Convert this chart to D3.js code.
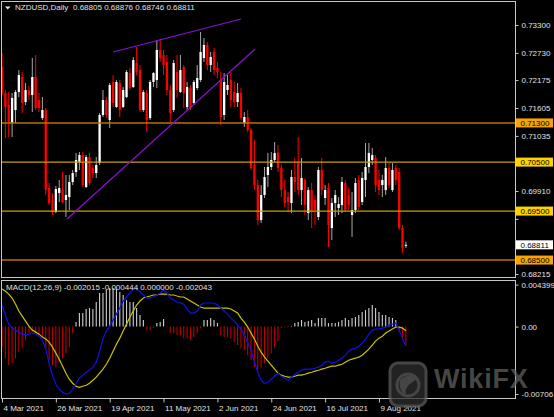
<!DOCTYPE html>
<html>
<head>
<meta charset="utf-8">
<script src="https://d3js.org/d3.v7.min.js"></script>
<style>
  body { margin: 0; background: #000; }
  svg text { font-family: "Liberation Sans", Arial, sans-serif; }
</style>
</head>
<body>
<div id="chart"></div>
<script>
// NZDUSD daily candles, 4 Mar 2021 .. 19 Aug 2021 (one value per trading day)
var opens = [
  0.72442,0.71911,0.71666,0.71298,0.71564,0.71931,0.72237,0.71727,0.71972,0.71870,
  0.72237,0.71768,0.71400,0.71564,0.69971,0.69726,0.69481,0.69869,0.69930,0.69726,
  0.69787,0.70094,0.70298,0.70502,0.70645,0.69991,0.70604,0.70380,0.70277,0.70482,
  0.71462,0.71768,0.71360,0.72136,0.71625,0.72115,0.71625,0.71829,0.72319,0.72033,
  0.72524,0.72381,0.71564,0.71911,0.71400,0.72136,0.72176,0.72789,0.72687,0.72544,
  0.71972,0.71564,0.72340,0.71931,0.72442,0.71625,0.72013,0.71707,0.72013,0.72176,
  0.72626,0.72891,0.72483,0.72748,0.72421,0.72176,0.71462,0.71972,0.72176,0.71931,
  0.71727,0.71911,0.71298,0.71421,0.71155,0.70441,0.70032,0.69318,0.69828,0.70237,
  0.70400,0.70543,0.70686,0.70380,0.69930,0.69787,0.69665,0.70196,0.70482,0.69930,
  0.70134,0.69460,0.69930,0.69726,0.69379,0.70339,0.69767,0.69971,0.69154,0.69665,
  0.69563,0.69624,0.70073,0.69828,0.69420,0.69522,0.70134,0.69685,0.70134,0.70400,
  0.70543,0.70584,0.70134,0.70032,0.69930,0.70380,0.69930,0.70380,0.70298,0.69154,
  0.68805];
var highs = [
  0.72728,0.71972,0.71931,0.71911,0.71972,0.72381,0.72340,0.72115,0.72054,0.72626,
  0.72687,0.71911,0.71829,0.71605,0.70073,0.69869,0.70012,0.70134,0.70298,0.70237,
  0.70237,0.70339,0.70686,0.70706,0.70706,0.70645,0.70686,0.70441,0.70604,0.71502,
  0.71972,0.71829,0.72115,0.72278,0.72176,0.72176,0.72033,0.72381,0.72421,0.72646,
  0.72850,0.72483,0.71972,0.71972,0.72176,0.72340,0.72993,0.73014,0.72789,0.72687,
  0.72074,0.72585,0.72687,0.72687,0.72483,0.72136,0.72074,0.72176,0.72483,0.73157,
  0.73034,0.72952,0.72748,0.72830,0.72544,0.72340,0.72319,0.72278,0.72340,0.72136,
  0.72115,0.72013,0.71523,0.71564,0.71196,0.70951,0.70134,0.70032,0.70400,0.70686,
  0.70706,0.70910,0.70849,0.70441,0.70134,0.69889,0.70339,0.70584,0.71013,0.70584,
  0.70175,0.69991,0.70073,0.69828,0.70400,0.70584,0.70032,0.70073,0.69767,0.69930,
  0.69787,0.70196,0.70134,0.69971,0.69889,0.70175,0.70237,0.70298,0.70890,0.70890,
  0.70788,0.70645,0.70339,0.70237,0.70604,0.70482,0.70482,0.70441,0.70380,0.69216,
  0.68876];
var lows = [
  0.71870,0.70992,0.71013,0.71013,0.71298,0.71829,0.71502,0.71666,0.71768,0.71523,
  0.71564,0.71523,0.71360,0.69828,0.69624,0.69420,0.69460,0.69685,0.69665,0.69379,
  0.69522,0.70032,0.70196,0.70339,0.69991,0.69971,0.70032,0.70175,0.70175,0.70441,
  0.71421,0.71400,0.71196,0.71625,0.71605,0.71421,0.71605,0.71808,0.71972,0.72013,
  0.72278,0.71523,0.71523,0.71115,0.71360,0.72033,0.72013,0.72544,0.72278,0.71870,
  0.71319,0.71523,0.71808,0.71911,0.71605,0.71564,0.71564,0.71666,0.71972,0.72136,
  0.72544,0.72381,0.72340,0.72278,0.72217,0.71258,0.71360,0.71870,0.71625,0.71625,
  0.71625,0.71360,0.71217,0.71115,0.70339,0.69930,0.69216,0.69256,0.69767,0.69991,
  0.70339,0.70502,0.70298,0.69787,0.69583,0.69481,0.69460,0.69889,0.69828,0.69624,
  0.69420,0.69318,0.69154,0.69216,0.69318,0.69828,0.69624,0.68766,0.68909,0.69379,
  0.69420,0.69460,0.69481,0.69522,0.68971,0.69460,0.69522,0.69624,0.69787,0.70277,
  0.70441,0.69889,0.69828,0.69787,0.69828,0.69971,0.69889,0.70032,0.69113,0.68644,
  0.68746];
var closes = [
  0.71911,0.71625,0.71319,0.71808,0.71931,0.72278,0.71707,0.71972,0.71870,0.72237,
  0.71605,0.71605,0.71564,0.69930,0.69665,0.69481,0.69951,0.69971,0.69685,0.69828,
  0.70094,0.70277,0.70543,0.70645,0.70032,0.70604,0.70073,0.70277,0.70441,0.71462,
  0.71768,0.71462,0.72074,0.71707,0.72136,0.71564,0.71972,0.72340,0.72013,0.72585,
  0.72340,0.71564,0.71931,0.71360,0.72136,0.72319,0.72789,0.72626,0.72483,0.71972,
  0.71502,0.72524,0.71972,0.72381,0.71911,0.72033,0.71605,0.72136,0.72217,0.72748,
  0.72891,0.72483,0.72646,0.72381,0.72340,0.71421,0.72136,0.72074,0.71768,0.71727,
  0.71911,0.71400,0.71421,0.71155,0.70380,0.70032,0.69318,0.69828,0.70196,0.70400,
  0.70543,0.70686,0.70380,0.69930,0.69665,0.69685,0.70196,0.70094,0.69930,0.70175,
  0.69624,0.69930,0.69481,0.69522,0.70339,0.69930,0.69930,0.69216,0.69665,0.69828,
  0.69644,0.70094,0.69522,0.69624,0.69522,0.70073,0.69583,0.70175,0.70400,0.70686,
  0.70645,0.70032,0.69930,0.70134,0.70380,0.70032,0.70339,0.70134,0.69154,0.68746,
  0.68811];

// MACD(12,26,9) panel: histogram, main (blue) and signal (yellow)
var macdHist = [
  -0.00215,-0.00331,-0.00404,-0.00383,-0.00331,-0.00268,-0.00226,-0.00142,-0.00068,-0.00058,
  -0.00068,-0.00089,-0.00110,-0.00226,-0.00352,-0.00404,-0.00425,-0.00373,-0.00331,-0.00278,
  -0.00215,-0.00068,0.00047,0.00142,0.00142,0.00184,0.00194,0.00184,0.00257,0.00352,
  0.00352,0.00383,0.00404,0.00404,0.00394,0.00362,0.00331,0.00278,0.00257,0.00257,
  0.00194,0.00121,0.00068,-0.00037,-0.00037,-0.00016,0.00037,0.00047,0.00079,-0.00005,
  -0.00068,-0.00068,-0.00089,-0.00089,-0.00121,-0.00121,-0.00142,-0.00110,-0.00068,-0.00020,
  0.00068,0.00068,0.00089,0.00068,0.00037,-0.00089,-0.00110,-0.00110,-0.00121,-0.00163,
  -0.00194,-0.00226,-0.00247,-0.00299,-0.00352,-0.00425,-0.00457,-0.00425,-0.00383,-0.00331,
  -0.00280,-0.00220,-0.00150,-0.00015,-0.00008,-0.00008,0.00005,0.00037,0.00047,0.00068,
  0.00047,0.00058,0.00068,0.00037,0.00089,0.00089,0.00089,0.00037,0.00037,0.00037,
  0.00047,0.00068,0.00089,0.00068,0.00089,0.00100,0.00121,0.00152,0.00173,0.00194,
  0.00226,0.00194,0.00152,0.00121,0.00121,0.00100,0.00089,0.00068,-0.00058,-0.00110,
  -0.002015];
var macdMain = [
  0.00226,0.00121,0.00026,-0.00016,-0.00037,-0.00058,-0.00079,-0.00089,-0.00079,-0.00068,
  -0.00079,-0.00100,-0.00142,-0.00236,-0.00383,-0.00509,-0.00604,-0.00656,-0.00688,-0.00706,
  -0.00698,-0.00656,-0.00593,-0.00541,-0.00509,-0.00478,-0.00457,-0.00425,-0.00373,-0.00257,
  -0.00131,-0.00047,0.00005,0.00068,0.00131,0.00194,0.00268,0.00310,0.00352,0.00394,
  0.00394,0.00362,0.00331,0.00299,0.00299,0.00310,0.00331,0.00352,0.00383,0.00352,
  0.00299,0.00278,0.00257,0.00247,0.00236,0.00184,0.00142,0.00142,0.00163,0.00226,
  0.00247,0.00247,0.00247,0.00247,0.00226,0.00194,0.00163,0.00131,0.00089,0.00058,
  0.00016,-0.00026,-0.00089,-0.00163,-0.00247,-0.00373,-0.00478,-0.00562,-0.00593,-0.00583,
  -0.00551,-0.00520,-0.00488,-0.00520,-0.00541,-0.00562,-0.00530,-0.00499,-0.00478,-0.00457,
  -0.00446,-0.00446,-0.00446,-0.00436,-0.00425,-0.00404,-0.00373,-0.00362,-0.00383,-0.00373,
  -0.00352,-0.00331,-0.00299,-0.00257,-0.00236,-0.00226,-0.00205,-0.00173,-0.00131,-0.00079,
  -0.00037,-0.00026,-0.00026,-0.00016,-0.00005,0.00016,0.00026,0.00037,-0.00037,-0.00131,
  -0.002043];
var macdSignal = [
  0.00394,0.00373,0.00341,0.00299,0.00236,0.00163,0.00110,0.00058,0.00005,-0.00037,
  -0.00058,-0.00079,-0.00110,-0.00131,-0.00163,-0.00215,-0.00278,-0.00341,-0.00415,-0.00488,
  -0.00551,-0.00593,-0.00625,-0.00636,-0.00625,-0.00614,-0.00593,-0.00562,-0.00530,-0.00488,
  -0.00446,-0.00394,-0.00331,-0.00257,-0.00184,-0.00121,-0.00047,0.00026,0.00100,0.00163,
  0.00226,0.00268,0.00299,0.00310,0.00320,0.00331,0.00331,0.00341,0.00341,0.00341,
  0.00331,0.00331,0.00320,0.00310,0.00310,0.00289,0.00268,0.00247,0.00226,0.00205,
  0.00194,0.00194,0.00194,0.00194,0.00194,0.00194,0.00194,0.00194,0.00184,0.00163,
  0.00142,0.00089,0.00047,-0.00005,-0.00068,-0.00131,-0.00205,-0.00268,-0.00320,-0.00362,
  -0.00404,-0.00446,-0.00488,-0.00509,-0.00520,-0.00530,-0.00530,-0.00520,-0.00509,-0.00509,
  -0.00499,-0.00488,-0.00478,-0.00467,-0.00457,-0.00446,-0.00436,-0.00425,-0.00415,-0.00415,
  -0.00404,-0.00394,-0.00373,-0.00352,-0.00341,-0.00331,-0.00320,-0.00299,-0.00268,-0.00236,
  -0.00194,-0.00152,-0.00121,-0.00100,-0.00068,-0.00047,-0.00026,-0.00005,-0.00005,-0.00016,
  -0.000444];

// axes
var priceTicks = [0.73300, 0.72730, 0.72175, 0.71605, 0.71035, 0.70465, 0.69910, 0.69340, 0.68770, 0.68215];
var priceDomain = [0.68154, 0.73749];
var macdTicks = [0.004399, 0.0, -0.00706];
var macdTickLabels = ["0.004399", "0.00", "-0.00706"];
var dateTickBars = [0, 16, 32, 48, 64, 80, 96, 112];
var dateTickLabels = ["4 Mar 2021", "26 Mar 2021", "19 Apr 2021", "11 May 2021", "2 Jun 2021", "24 Jun 2021", "16 Jul 2021", "9 Aug 2021"];

// horizontal levels and trend lines drawn on the chart
var levels = [0.71300, 0.70500, 0.69500, 0.68500];
var trendFrom = [[33.0, 0.72748], [19.3, 0.69338]];
var trendTo = [[71.0, 0.73422], [75.2, 0.72809]];

var symbolText = "NZDUSD,Daily";
var macdName = "MACD(12,26,9)";
var macdValues = ["-0.002015", "-0.000444", "0.000000", "-0.002043"];

// ---- layout / styles ----
var svgWidth = 554;
var svgHeight = 417;
var panelLeft = 1.5, panelRight = 515.5;
var mainTop = 1.5, mainBottom = 277.5;
var macdTop = 280.5, macdBottom = 398.5;
var levelLineColors = ["#b87000", "#c8a000", "#c8a000", "#b87000"];
var levelBoxColors = ["#f5a400", "#ffd200", "#ffd200", "#f5a400"];
var textColor = "#e0e0e0";
var frameColor = "#c8c8c8";

var svg = d3.select("#chart").append("svg").attr("width", svgWidth).attr("height", svgHeight);
svg.append("rect").attr("width", svgWidth).attr("height", svgHeight).attr("fill", "#000");

var defs = svg.append("defs");
defs.append("clipPath").attr("id", "clipMain").append("rect")
    .attr("x", panelLeft + 0.5).attr("y", mainTop + 0.5)
    .attr("width", panelRight - panelLeft - 1).attr("height", mainBottom - mainTop - 1);
defs.append("clipPath").attr("id", "clipMacd").append("rect")
    .attr("x", panelLeft + 0.5).attr("y", macdTop + 0.5)
    .attr("width", panelRight - panelLeft - 1).attr("height", macdBottom - macdTop - 1);

// scales
var bars = d3.range(closes.length);
var xScale = d3.scaleLinear().domain([0, 120]).range([2, 405.9]);
var yPrice = d3.scaleLinear().domain(priceDomain).range([277, 3]);
var yMacd = d3.scaleLinear().domain([macdTicks[2], macdTicks[0]]).range([394, 284.6]);

// ---- main panel ----
var mainGroup = svg.append("g").attr("clip-path", "url(#clipMain)");

mainGroup.selectAll("line.wick")
    .data(bars)
    .enter()
    .append("line")
    .attr("class", "wick")
    .attr("x1", i => xScale(i))
    .attr("x2", i => xScale(i))
    .attr("y1", i => yPrice(highs[i]))
    .attr("y2", i => yPrice(lows[i]))
    .attr("stroke", i => closes[i] >= opens[i] ? "#a8a8a8" : "#ff0000")
    .attr("stroke-width", 1);

mainGroup.selectAll("rect.body")
    .data(bars)
    .enter()
    .append("rect")
    .attr("class", "body")
    .attr("x", i => xScale(i) - 1.15)
    .attr("width", 2.3)
    .attr("y", i => yPrice(Math.max(opens[i], closes[i])))
    .attr("height", i => Math.max(1, Math.abs(yPrice(opens[i]) - yPrice(closes[i]))))
    .attr("fill", i => closes[i] >= opens[i] ? "#ffffff" : "#ff0000");

// level lines
mainGroup.selectAll("line.level")
    .data(levels)
    .enter()
    .append("line")
    .attr("class", "level")
    .attr("x1", panelLeft)
    .attr("x2", panelRight)
    .attr("y1", d => yPrice(d))
    .attr("y2", d => yPrice(d))
    .attr("stroke", (d, k) => levelLineColors[k])
    .attr("stroke-width", 1.4);

// trend lines
mainGroup.selectAll("line.trend")
    .data(d3.range(trendFrom.length))
    .enter()
    .append("line")
    .attr("class", "trend")
    .attr("x1", k => xScale(trendFrom[k][0]))
    .attr("y1", k => yPrice(trendFrom[k][1]))
    .attr("x2", k => xScale(trendTo[k][0]))
    .attr("y2", k => yPrice(trendTo[k][1]))
    .attr("stroke", "#8c10d0")
    .attr("stroke-width", 1.2);

// header
svg.append("path").attr("d", "M5,6.5 L10.5,6.5 L7.75,9.5 Z").attr("fill", "#e8e8e8");
svg.append("text").attr("x", 15).attr("y", 10).attr("fill", textColor).attr("font-size", "8px").text(symbolText);
svg.append("text").attr("x", 73).attr("y", 10).attr("fill", textColor).attr("font-size", "8px")
    .text([opens[120], highs[120], lows[120], closes[120]].map(d3.format(".5f")).join(" "));

// price axis; a tick label sitting under a level box is covered, as in the terminal
var boxedPrices = levels.concat([closes[120]]);
var priceAxis = svg.append("g")
    .attr("transform", `translate(${panelRight},0)`)
    .call(d3.axisRight(yPrice).tickValues(priceTicks).tickSize(3).tickPadding(3)
        .tickFormat(d => boxedPrices.some(b => Math.abs(yPrice(b) - yPrice(d)) < 8) ? "" : d3.format(".5f")(d)));

// ---- MACD panel ----
var macdGroup = svg.append("g").attr("clip-path", "url(#clipMacd)");

macdGroup.selectAll("line.hist")
    .data(bars)
    .enter()
    .append("line")
    .attr("class", "hist")
    .attr("x1", i => xScale(i))
    .attr("x2", i => xScale(i))
    .attr("y1", yMacd(0))
    .attr("y2", i => yMacd(macdHist[i]))
    .attr("stroke", i => macdHist[i] >= 0 ? "#d0d0d0" : "#c00000")
    .attr("stroke-width", 1.1);

var macdLine = d3.line().x((d, i) => xScale(i)).y(d => yMacd(d));

macdGroup.append("path").datum(macdSignal)
    .attr("d", macdLine).attr("fill", "none").attr("stroke", "#c8c400").attr("stroke-width", 1.2);
macdGroup.append("path").datum(macdMain)
    .attr("d", macdLine).attr("fill", "none").attr("stroke", "#1010e8").attr("stroke-width", 1.2);

svg.append("text").attr("x", 6).attr("y", 290).attr("fill", textColor).attr("font-size", "8px")
    .text(macdName + " " + macdValues.join(" "));

var macdAxis = svg.append("g")
    .attr("transform", `translate(${panelRight},0)`)
    .call(d3.axisRight(yMacd).tickValues(macdTicks).tickFormat((d, k) => macdTickLabels[k]).tickSize(3).tickPadding(3));

// date axis
var dateAxis = svg.append("g")
    .attr("transform", `translate(0,${macdBottom})`)
    .call(d3.axisBottom(xScale).tickValues(dateTickBars).tickFormat((d, k) => dateTickLabels[k]).tickSize(4).tickPadding(3));

[priceAxis, macdAxis, dateAxis].forEach(function(ax) {
    ax.select(".domain").remove();
    ax.selectAll(".tick line").attr("stroke", frameColor);
    ax.selectAll(".tick text")
        .attr("fill", textColor)
        .attr("font-size", "8px")
        .attr("font-family", "Liberation Sans, Arial, sans-serif");
});
dateAxis.selectAll(".tick text").attr("text-anchor", "start").attr("x", 1);

// frames
svg.append("rect").attr("x", panelLeft).attr("y", mainTop)
    .attr("width", panelRight - panelLeft).attr("height", mainBottom - mainTop)
    .attr("fill", "none").attr("stroke", frameColor);
svg.append("rect").attr("x", panelLeft).attr("y", macdTop)
    .attr("width", panelRight - panelLeft).attr("height", macdBottom - macdTop)
    .attr("fill", "none").attr("stroke", frameColor);

// price labels of the levels and of the last close
var boxGroup = svg.append("g");
levels.forEach(function(v, k) {
    boxGroup.append("rect").attr("x", 516).attr("y", yPrice(v) - 4.5)
        .attr("width", 37).attr("height", 9).attr("fill", levelBoxColors[k]);
    boxGroup.append("text").attr("x", 520.5).attr("y", yPrice(v)).attr("dy", "0.35em")
        .attr("font-size", "8px").attr("fill", "#000").text(d3.format(".5f")(v));
});
boxGroup.append("rect").attr("x", 516).attr("y", yPrice(closes[120]) - 4.5)
    .attr("width", 37).attr("height", 9).attr("fill", "#ffffff");
boxGroup.append("text").attr("x", 520.5).attr("y", yPrice(closes[120])).attr("dy", "0.35em")
    .attr("font-size", "8px").attr("fill", "#000").text(d3.format(".5f")(closes[120]));

// WikiFX watermark
var mark = svg.append("g").attr("opacity", 0.75);
mark.append("rect").attr("x", 390).attr("y", 363).attr("width", 36).attr("height", 43).attr("rx", 8)
    .attr("fill", "#2e2e2e").attr("stroke", "#5c5c5c").attr("stroke-width", 3);
mark.append("circle").attr("cx", 408).attr("cy", 385).attr("r", 11)
    .attr("fill", "none").attr("stroke", "#5c5c5c").attr("stroke-width", 3);
mark.append("path").attr("d", "M400,380 Q408,372 418,378 L410,384 Q404,388 406,396 Q398,390 400,380 Z")
    .attr("fill", "#5c5c5c");
mark.append("text").attr("x", 434).attr("y", 388).attr("font-size", "27px").attr("font-weight", "bold")
    .attr("letter-spacing", "0.8px").attr("fill", "#5e5e5e").text("WikiFX");
</script>
</body>
</html>
